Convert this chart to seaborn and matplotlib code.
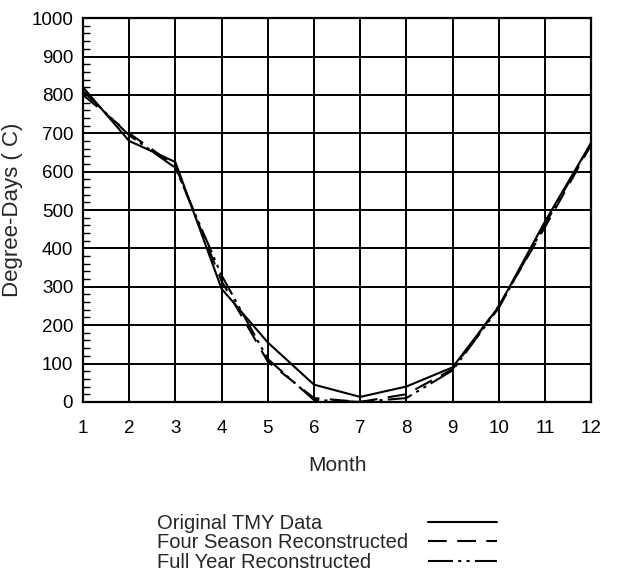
import matplotlib
matplotlib.use("Agg")
import matplotlib.pyplot as plt
from matplotlib.lines import Line2D
from matplotlib.ticker import MultipleLocator
import seaborn as sns
import pandas as pd

months = [1, 2, 3, 4, 5, 6, 7, 8, 9, 10, 11, 12]
original_tmy = [820, 680, 625, 295, 155, 45, 13, 40, 90, 248, 470, 675]
four_season = [800, 700, 615, 315, 105, 10, 0, 20, 85, 250, 455, 670]
full_year = [810, 695, 610, 330, 112, 5, 0, 10, 82, 245, 462, 675]
series_names = ["Original TMY Data", "Four Season Reconstructed", "Full Year Reconstructed"]
y_ticks = [0, 100, 200, 300, 400, 500, 600, 700, 800, 900, 1000]

sns.set_theme(style="white")
plt.rcParams['font.family'] = ['Liberation Sans', 'DejaVu Sans']

df = pd.DataFrame({
    "Month": months * 3,
    "Value": original_tmy + four_season + full_year,
    "Series": [series_names[0]] * 12 + [series_names[1]] * 12 + [series_names[2]] * 12,
})

styles = {
    series_names[0]: "-",
    series_names[1]: (0, (9, 5)),
    series_names[2]: (0, (12, 2.5, 1.5, 2.5, 1.5, 2.5)),
}

fig = plt.figure(figsize=(6.19, 5.85), dpi=100)
ax = fig.add_axes([0.134, 0.313, 0.821, 0.656])

for name in series_names:
    sub = df[df["Series"] == name]
    sns.lineplot(data=sub, x="Month", y="Value", ax=ax, color="black",
                 linewidth=1.5, linestyle=styles[name], legend=False)

ax.set_xlim(1, 12)
ax.set_ylim(0, 1000)
ax.set_xticks(months)
ax.set_xticklabels([str(m) for m in months])
ax.set_yticks(y_ticks)
ax.set_yticklabels([str(v) for v in y_ticks])
ax.yaxis.set_minor_locator(MultipleLocator(20))
ax.tick_params(axis="both", which="major", length=0, labelsize=13.5, colors="black")
ax.tick_params(axis="x", which="major", pad=13)
ax.tick_params(axis="y", which="major", pad=7)
ax.tick_params(axis="y", which="minor", left=True, direction="in", length=5, width=1, color="black")
ax.grid(True, which="major", color="black", linewidth=1.4)
for s in ax.spines.values():
    s.set_color("black")
    s.set_linewidth(1.6)

ax.set_xlabel("Month", fontsize=15, labelpad=14)
ax.set_ylabel("Degree-Days ( C)", fontsize=16, labelpad=6)

# legend block below the chart
rows_y = [0.105, 0.072, 0.038]
for yy, name in zip(rows_y, series_names):
    fig.text(0.253, yy, name, fontsize=14.5, va="center", ha="left")
    fig.add_artist(Line2D([0.692, 0.803], [yy + 0.003, yy + 0.003], color="black",
                          linewidth=1.5, linestyle=styles[name], transform=fig.transFigure))

fig.savefig("out.png", dpi=100)
